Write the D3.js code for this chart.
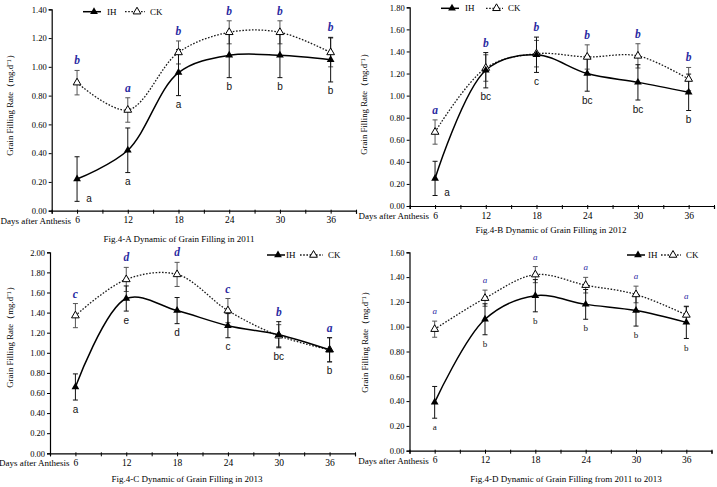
<!DOCTYPE html>
<html><head><meta charset="utf-8">
<script src="https://cdn.jsdelivr.net/npm/d3@7"></script>
<style>body{margin:0;background:#fff}svg{display:block}</style>
</head><body>
<svg id="c" width="717" height="487"></svg>
<script>
// ---------- DATA ----------
const daysAfter = [6, 12, 18, 24, 30, 36];
const seriesNames = ["IH", "CK"];
const xLabel = "Days after Anthesis";
const yTitle = "Grain Filling Rate（mg.d⁻¹）";
const captions = [
  "Fig.4-A Dynamic of Grain Filling in 2011",
  "Fig.4-B Dynamic of Grain Filling in 2012",
  "Fig.4-C Dynamic of Grain Filling in 2013",
  "Fig.4-D Dynamic of Grain Filling from 2011 to 2013"
];
const yMaxes = [1.4, 1.8, 2.0, 1.6];

const ihA = [0.22, 0.42, 0.96, 1.08, 1.08, 1.05];
const ihErrA = [0.155, 0.155, 0.16, 0.155, 0.155, 0.155];
const ckA = [0.89, 0.70, 1.10, 1.24, 1.24, 1.10];
const ckErrA = [0.085, 0.085, 0.08, 0.08, 0.08, 0.10];
const ihLetA = ["a", "a", "a", "b", "b", "b"];
const ckLetA = ["b", "a", "b", "b", "b", "b"];

const ihB = [0.25, 1.23, 1.37, 1.20, 1.12, 1.03];
const ihErrB = [0.155, 0.16, 0.16, 0.16, 0.16, 0.165];
const ckB = [0.67, 1.25, 1.38, 1.35, 1.36, 1.15];
const ckErrB = [0.11, 0.12, 0.12, 0.11, 0.11, 0.105];
const ihLetB = ["a", "bc", "c", "bc", "bc", "b"];
const ckLetB = ["a", "b", "b", "b", "b", "b"];

const ihC = [0.66, 1.54, 1.42, 1.27, 1.18, 1.03];
const ihErrC = [0.13, 0.125, 0.13, 0.12, 0.13, 0.12];
const ckC = [1.37, 1.73, 1.78, 1.42, 1.17, 1.03];
const ckErrC = [0.12, 0.12, 0.12, 0.12, 0.11, 0.12];
const ihLetC = ["a", "e", "d", "c", "bc", "b"];
const ckLetC = ["c", "d", "d", "c", "b", "a"];

const ihD = [0.39, 1.06, 1.25, 1.18, 1.13, 1.035];
const ihErrD = [0.128, 0.125, 0.13, 0.12, 0.125, 0.13];
const ckD = [0.98, 1.23, 1.42, 1.335, 1.26, 1.095];
const ckErrD = [0.065, 0.065, 0.065, 0.063, 0.067, 0.066];
const ihLetD = ["a", "b", "b", "b", "b", "b"];
const ckLetD = ["a", "a", "a", "a", "a", "a"];

// ---------- LAYOUT ----------
const panels = [
  {ih: ihA, ihE: ihErrA, ck: ckA, ckE: ckErrA, ihL: ihLetA, ckL: ckLetA,
   x0: 51.7, x1: 356, y0: 210.7, y1: 9.3, leg: [83, 107, 125, 150, 11.7],
   ytx: 10, yty: 103, capx: 179, capy: 239.3, style: "abc"},
  {ih: ihB, ihE: ihErrB, ck: ckB, ckE: ckErrB, ihL: ihLetB, ckL: ckLetB,
   x0: 409.7, x1: 714, y0: 206, y1: 7.3, leg: [441, 465, 486, 508, 8.3],
   ytx: 364, yty: 102, capx: 551, capy: 230, style: "abc"},
  {ih: ihC, ihE: ihErrC, ck: ckC, ckE: ckErrC, ihL: ihLetC, ckL: ckLetC,
   x0: 50, x1: 355, y0: 453.3, y1: 252.3, leg: [267, 286, 300, 328, 255],
   ytx: 10, yty: 335, capx: 187, capy: 479.3, style: "abc"},
  {ih: ihD, ihE: ihErrD, ck: ckD, ckE: ckErrD, ihL: ihLetD, ckL: ckLetD,
   x0: 409.5, x1: 711.5, y0: 450.7, y1: 252.3, leg: [627, 648, 661, 686, 255],
   ytx: 365, yty: 340, capx: 566, capy: 479.3, style: "d"}
];

const svg = d3.select("#c");
const SERIF = "'Liberation Serif','Times New Roman',serif";
const SANS = "'Liberation Sans',Arial,sans-serif";
const BLUE = "#2a2aa2";
const tri = d3.symbol().type(d3.symbolTriangle).size(26);

panels.forEach((p, i) => {
  const yMax = yMaxes[i];
  const x = d3.scaleLinear().domain([3, 39]).range([p.x0, p.x1]);
  const y = d3.scaleLinear().domain([0, yMax]).range([p.y0, p.y1]);
  const g = svg.append("g");

  // x axis
  const xa = g.append("g").attr("transform", `translate(0,${p.y0})`)
    .call(d3.axisBottom(x).tickValues(d3.range(3, 40, 3)).tickSizeOuter(0).tickSize(3).tickPadding(3)
      .tickFormat(d => daysAfter.includes(d) ? d : ""));
  xa.selectAll("text").attr("font-family", SERIF).attr("font-size", 9.5).attr("fill", "#000");
  xa.selectAll("line").attr("stroke", "#000").attr("y1", -1);
  xa.select(".domain").attr("stroke", "#000").attr("stroke-width", 1.2);

  // y axis
  const ya = g.append("g").attr("transform", `translate(${p.x0},0)`)
    .call(d3.axisLeft(y).tickValues(d3.range(0, yMax + 0.001, 0.2)).tickFormat(d3.format(".2f"))
      .tickSizeOuter(0).tickSize(3).tickPadding(2));
  ya.selectAll("text").attr("font-family", SERIF).attr("font-size", 8.5).attr("fill", "#000");
  ya.selectAll("line").attr("stroke", "#000");
  ya.select(".domain").attr("stroke", "#000").attr("stroke-width", 1.2);

  // axis titles
  g.append("text").attr("x", x(6) - 6).attr("y", p.y0 + 13)
    .attr("text-anchor", "end").attr("font-family", SERIF).attr("font-size", 9).text(xLabel);
  g.append("text").attr("transform", `translate(${p.ytx},${p.yty}) rotate(-90)`)
    .attr("text-anchor", "middle").attr("dy", "0.35em")
    .attr("font-family", SERIF).attr("font-size", 8.8).text(yTitle);
  g.append("text").attr("x", p.capx).attr("y", p.capy).attr("dy", "0.35em")
    .attr("text-anchor", "middle").attr("font-family", SERIF).attr("font-size", 9).text(captions[i]);

  const line = d3.line().x((d, j) => x(daysAfter[j])).y(d => y(d)).curve(d3.curveCatmullRom.alpha(0.5));

  // error bars
  const drawErr = (vals, errs, color) => {
    vals.forEach((v, j) => {
      const cx = x(daysAfter[j]), t = y(v + errs[j]), b = y(v - errs[j]);
      g.append("line").attr("x1", cx).attr("x2", cx).attr("y1", t).attr("y2", b).attr("stroke", color).attr("stroke-width", 1);
      [t, b].forEach(yy => g.append("line").attr("x1", cx - 2.5).attr("x2", cx + 2.5).attr("y1", yy).attr("y2", yy)
        .attr("stroke", color).attr("stroke-width", 1));
    });
  };
  drawErr(p.ck, p.ckE, "#555");
  drawErr(p.ih, p.ihE, "#111");

  // lines
  g.append("path").attr("d", line(p.ck)).attr("fill", "none").attr("stroke", "#1a1a1a")
    .attr("stroke-width", 1.3).attr("stroke-dasharray", "1.6,1.6");
  g.append("path").attr("d", line(p.ih)).attr("fill", "none").attr("stroke", "#000").attr("stroke-width", 1.5);

  // markers
  p.ck.forEach((v, j) => g.append("path").attr("d", tri)
    .attr("transform", `translate(${x(daysAfter[j])},${y(v)})`).attr("fill", "#fff").attr("stroke", "#000").attr("stroke-width", 1));
  p.ih.forEach((v, j) => g.append("path").attr("d", tri)
    .attr("transform", `translate(${x(daysAfter[j])},${y(v)})`).attr("fill", "#000"));

  // significance letters
  const isD = p.style === "d";
  p.ckL.forEach((L, j) => {
    const top = Math.min(y(p.ck[j] + p.ckE[j]), y(p.ih[j] + p.ihE[j]));
    g.append("text").attr("x", x(daysAfter[j])).attr("y", top - 10).attr("dy", "0.35em")
      .attr("text-anchor", "middle").attr("font-family", SERIF).attr("font-style", "italic")
      .attr("font-weight", isD ? "normal" : "bold").attr("font-size", isD ? 9 : 11.5)
      .attr("fill", BLUE).text(L);
  });
  p.ihL.forEach((L, j) => {
    const bot = y(p.ih[j] - p.ihE[j]);
    let lx = x(daysAfter[j]), ly = bot + 9;
    if (ly + 6 > p.y0 - 2) { lx += 12; ly = bot - 3; }
    g.append("text").attr("x", lx).attr("y", ly).attr("dy", "0.35em")
      .attr("text-anchor", "middle").attr("font-family", isD ? SERIF : SANS)
      .attr("font-size", isD ? 9 : 10).attr("fill", "#111").text(L);
  });

  // legend
  const [s1, t1, s2, t2, ly] = p.leg;
  g.append("line").attr("x1", s1).attr("x2", s1 + 18).attr("y1", ly).attr("y2", ly).attr("stroke", "#000").attr("stroke-width", 1.5);
  g.append("path").attr("d", tri).attr("transform", `translate(${s1 + 11},${ly})`).attr("fill", "#000");
  g.append("text").attr("x", t1).attr("y", ly).attr("dy", "0.35em").attr("font-family", SERIF).attr("font-size", 9).text(seriesNames[0]);
  g.append("line").attr("x1", s2).attr("x2", t2 - 5).attr("y1", ly).attr("y2", ly).attr("stroke", "#1a1a1a")
    .attr("stroke-width", 1.3).attr("stroke-dasharray", "1.6,1.6");
  g.append("path").attr("d", tri).attr("transform", `translate(${(s2 + t2 - 5) / 2 + 2},${ly})`)
    .attr("fill", "#fff").attr("stroke", "#000");
  g.append("text").attr("x", t2).attr("y", ly).attr("dy", "0.35em").attr("font-family", SERIF).attr("font-size", 9).text(seriesNames[1]);
});
</script>
</body></html>
